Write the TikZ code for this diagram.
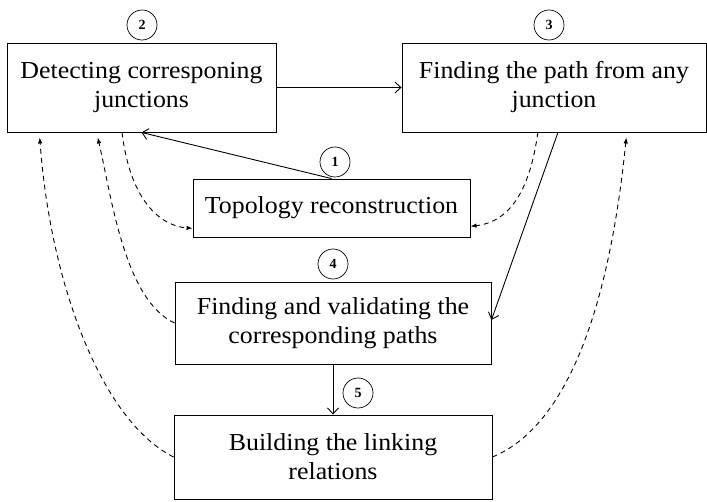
\documentclass[tikz,border=0pt]{standalone}
\usepackage{fontspec}
\setmainfont{Liberation Serif}
\newfontfamily\boxfont[FakeStretch=1.06]{Liberation Serif}
\usetikzlibrary{arrows.meta,calc}
\begin{document}
\begin{tikzpicture}[x=1pt,y=-1pt,
  box/.style={draw,line width=0.9pt,rectangle,align=center,inner sep=0pt,
    font=\boxfont\fontsize{24.4}{29}\selectfont},
  num/.style={draw,circle,line width=0.7pt,minimum size=30pt,inner sep=0pt,
    font=\fontsize{14}{14}\selectfont\bfseries},
  solidarrow/.style={line width=0.9pt,-{Straight Barb[length=6pt,width=11pt]}},
  dasharrow/.style={line width=0.9pt,dash pattern=on 5pt off 4pt,
    -{Latex[length=6pt,width=4.5pt]}}]
\useasboundingbox (0,0) rectangle (707,502);
\node[box,minimum width=269pt,minimum height=89pt] (b2) at (141.5,87.5)
  {Detecting corresponing\\junctions};
\node[box,minimum width=304pt,minimum height=89pt] (b3) at (554,87.5)
  {Finding the path from any\\junction};
\node[box,minimum width=277pt,minimum height=58pt] (b1) at (331.5,208)
  {Topology reconstruction};
\node[box,minimum width=316pt,minimum height=82pt] (b4) at (333,323)
  {Finding and validating the\\corresponding paths};
\node[box,minimum width=318pt,minimum height=84pt] (b5) at (333,457)
  {Building the linking\\relations};
\node[num] (c2) at (142,25) {2};
\node[num] (c3) at (549,25) {3};
\node[num] (c1) at (335,162) {1};
\node[num] (c4) at (333,264) {4};
\node[num] (c5) at (358,393) {5};
% solid connectors
\draw[solidarrow] (b1.north) -- (b2.south);
\draw[solidarrow] (b2.east) -- (b3.west);
\draw[solidarrow] ($(b3.south west)!0.513!(b3.south east)$) -- ($(b4.south east)!0.537!(b4.north east)$);
\draw[solidarrow] (b4.south) -- (b5.north);
% dashed connectors
\draw[dasharrow] ($(b2.south west)!0.428!(b2.south east)$)
  .. controls (130,200) and (160,226) .. ($(b1.south west)!0.155!(b1.north west)$);
\draw[dasharrow] ($(b3.south west)!0.447!(b3.south east)$)
  .. controls (530,190) and (510,222) .. ($(b1.south east)!0.19!(b1.north east)$);
\draw[dasharrow] (b4.west)
  .. controls (125,300) and (112,200) .. ($(b2.south west)!0.338!(b2.south east)+(0,5)$);
\draw[dasharrow] (b5.west)
  .. controls (100,420) and (50,280) .. ($(b2.south west)!0.123!(b2.south east)+(0,5)$);
\draw[dasharrow] (b5.east)
  .. controls (570,425) and (610,300) .. ($(b3.south west)!0.737!(b3.south east)+(0,5)$);
\end{tikzpicture}
\end{document}
